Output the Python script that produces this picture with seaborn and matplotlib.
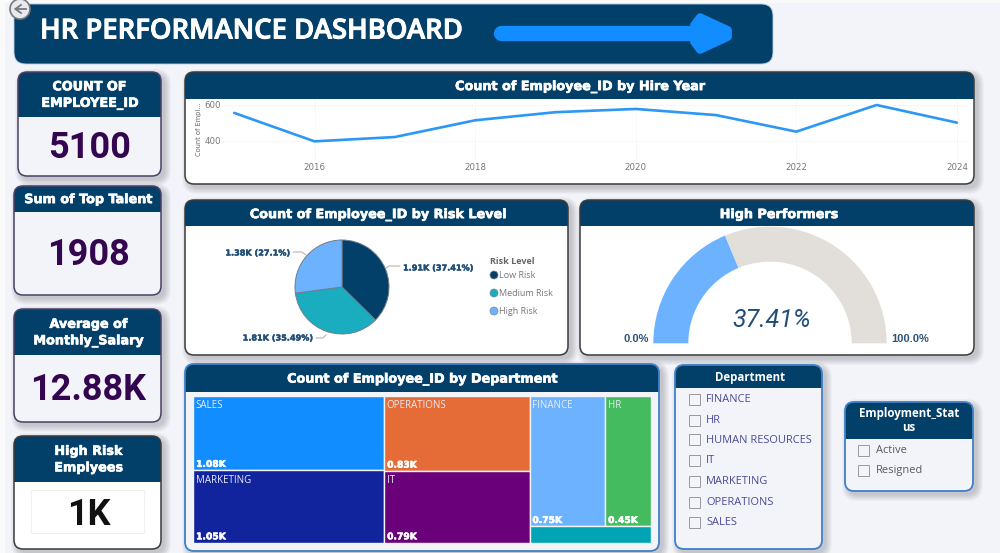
import matplotlib
matplotlib.use("Agg")
import matplotlib.pyplot as plt
import matplotlib.patheffects as pe
from matplotlib.patches import Circle, FancyBboxPatch, Polygon, Rectangle
import pandas as pd
import seaborn as sns

# ---- dashboard data ----
hire_years = [2015, 2016, 2017, 2018, 2019, 2020, 2021, 2022, 2023, 2024]
hire_counts = [556, 398, 422, 515, 560, 578, 544, 452, 600, 502]
year_ticks = [2016, 2018, 2020, 2022, 2024]
count_ticks = [400, 600]

risk_levels = ["Low Risk", "Medium Risk", "High Risk"]
risk_counts = [1908, 1810, 1382]

high_performer_pct = 37.41

dept_columns = [
    ["SALES", "MARKETING"],
    ["OPERATIONS", "IT"],
]
dept_counts = {
    "SALES": 1080, "MARKETING": 1050, "OPERATIONS": 830, "IT": 790,
    "FINANCE": 750, "HR": 450, "HUMAN RESOURCES": 150,
}
dept_slicer = ["FINANCE", "HR", "HUMAN RESOURCES", "IT", "MARKETING", "OPERATIONS", "SALES"]
status_slicer = ["Active", "Resigned"]

kpi_titles = ["COUNT OF\nEMPLOYEE_ID", "Sum of Top Talent", "Average of\nMonthly_Salary", "High Risk\nEmplyees"]
kpi_values = ["5100", "1908", "12.88K", "1K"]

# ---- palette ----
NAVY = "#023F69"
PAGE = "#F3F4F9"
PLUM = "#34064F"
BLUE = "#118DFF"
LIGHT_BLUE = "#6CB2FF"
TEAL = "#1AADBF"
dept_colors = {
    "SALES": BLUE, "MARKETING": "#12239E", "OPERATIONS": "#E66C37", "IT": "#6B007B",
    "FINANCE": LIGHT_BLUE, "HR": "#45BB60", "HUMAN RESOURCES": "#00A5B5",
}

sns.set_theme(style="white")
W, H = 1000, 553
fig = plt.figure(figsize=(W / 100, H / 100), dpi=100, facecolor=PAGE)

# Full-page layer in pixel units for cards and text.
canvas = fig.add_axes([0, 0, 1, 1], zorder=0)
canvas.set_xlim(0, W)
canvas.set_ylim(H, 0)
canvas.axis("off")
canvas.add_patch(Rectangle((0, 0), 5, H, fc="#FAFAFB", ec="none"))
canvas.add_patch(Rectangle((0, 0), W, 3, fc="#FAFAFB", ec="none"))


def px_axes(x0, y0, x1, y1, zorder=2):
    ax = fig.add_axes([x0 / W, 1 - y1 / H, (x1 - x0) / W, (y1 - y0) / H], zorder=zorder)
    ax.patch.set_alpha(0)
    return ax


def rounded(x0, y0, x1, y1, r, **kw):
    p = FancyBboxPatch((x0 + r, y0 + r), x1 - x0 - 2 * r, y1 - y0 - 2 * r,
                       boxstyle=f"round,pad={r},rounding_size={r}", **kw)
    canvas.add_patch(p)
    return p


def card(x0, y0, x1, y1, header_end, fill="white", edge="#3B3B3B", r=9, lw=1.1):
    for i in range(7, 0, -1):
        rounded(x0 + 4 - i, y0 + 4 - i, x1 + 3 + i, y1 + 3 + i, r + i,
                fc="#30343A", ec="none", alpha=0.035)
    body = rounded(x0, y0, x1, y1, r, fc=fill, ec="none")
    head = Rectangle((x0, y0), x1 - x0, header_end - y0, fc=NAVY, ec="none")
    canvas.add_patch(head)
    head.set_clip_path(body)
    rounded(x0, y0, x1, y1, r, fc="none", ec=edge, lw=lw)


def thicken(color, width=0.45):
    return [pe.withStroke(linewidth=width, foreground=color)]


def heading(x, y, s, size=9.2):
    canvas.text(x, y + 0.6, s, color="white", fontsize=size, fontweight="bold", family="DejaVu Sans",
                ha="center", va="center", linespacing=1.35, path_effects=thicken("white"))


# Page banner
rounded(14, 4, 773, 64, 12, fc=NAVY, ec="#B8CFE6", lw=0.6)
canvas.text(40, 31, "HR PERFORMANCE DASHBOARD", color="white", fontsize=19.8, fontweight="semibold",
            family="Open Sans", va="center", ha="left", path_effects=thicken("white", 0.7))
canvas.plot([501, 692], [33.3, 33.3], color=BLUE, lw=11, solid_capstyle="round")
canvas.add_patch(Polygon([(700, 17), (728, 30), (728, 37), (700, 50), (694, 42), (694, 25)],
                         closed=True, fc=BLUE, ec=BLUE, lw=5.5, joinstyle="round"))
canvas.add_patch(Circle((20, 9), 10, fc="#E9EAEE", ec="#77797D", lw=1.2, zorder=5))
canvas.annotate("", xy=(11, 9), xytext=(29, 9), zorder=6,
                arrowprops=dict(arrowstyle="->,head_width=0.25,head_length=0.35", color="#77797D", lw=1.3))

# KPI cards
kpi_boxes = [
    (18, 72, 161, 176, 117, 148),
    (14, 186, 161, 295, 212, 255),
    (14, 309, 161, 422, 355, 390),
    (14, 436, 161, 549, 482, 515),
]
for (x0, y0, x1, y1, hd, vy), title, value in zip(kpi_boxes, kpi_titles, kpi_values):
    is_last = value == kpi_values[-1]
    card(x0, y0, x1, y1, hd, fill="white" if is_last else PAGE,
         edge="#3A3A3A" if is_last else "#4B3F66")
    heading((x0 + x1) / 2 + (1 if x0 == 14 else 0), (y0 + hd) / 2, title, size=9.2)
    if is_last:
        canvas.add_patch(Rectangle((31, 490), 113, 43, fc="white", ec="#F0F0F0", lw=0.7))
    canvas.text((x0 + x1) / 2 + (1 if x0 == 14 else 0), vy, value, color="#111111" if is_last else PLUM,
                fontsize=26, fontweight="bold", family="Roboto", ha="center", va="center")

# Hire-year trend
card(185, 72, 974, 184, 98.5)
heading(580, 86, "Count of Employee_ID by Hire Year")
ax_line = px_axes(222, 99, 968, 160)
year_px = 80.3
ax_line.set_xlim(2016 - (314.5 - 222) / year_px, 2016 + (968 - 314.5) / year_px)
ax_line.set_ylim(400 - 19 * 200 / 36, 600 + 6 * 200 / 36)
trend = pd.DataFrame({"year": hire_years, "count": hire_counts})
sns.lineplot(data=trend, x="year", y="count", ax=ax_line, color="#2C97F5", lw=1.9, errorbar=None)
ax_line.set_xticks(year_ticks)
ax_line.set_yticks(count_ticks)
ax_line.tick_params(axis="y", length=0, labelsize=6.2, labelcolor="#777777", pad=1)
ax_line.tick_params(axis="x", length=0, labelsize=6.2, labelcolor="#777777", pad=2.5)
ax_line.set_xlabel("")
ax_line.set_ylabel("Count of Empl...", fontsize=4.8, color="#666666", labelpad=1.5)
ax_line.grid(True, color="#EBEBEB", ls=":", lw=0.7)
sns.despine(ax=ax_line, left=True, bottom=True, top=True, right=True)

# Risk-level pie
card(185, 200, 568, 355, 226)
heading(378, 214, "Count of Employee_ID by Risk Level")
pie_r = 47
ax_pie = px_axes(342 - pie_r, 287 - pie_r, 342 + pie_r, 287 + pie_r)
ax_pie.pie(risk_counts, colors=[NAVY, TEAL, LIGHT_BLUE], startangle=90, counterclock=False, radius=1,
           wedgeprops=dict(edgecolor="#6F7C8C", linewidth=0.7, clip_on=False))
ax_pie.set_xlim(-1, 1)
ax_pie.set_ylim(-1, 1)

risk_total = sum(risk_counts)
risk_label_spots = [(403, 268, "left"), (313, 338, "right"), (290, 253, "right")]
for v, (lx, ly, ha) in zip(risk_counts, risk_label_spots):
    canvas.text(lx, ly, f"{v / 1000:.2f}K ({round(v / risk_total * 100, 2):g}%)", color="#1F4E79",
                fontsize=5.85, fontweight="bold", family="DejaVu Sans", ha=ha, va="center",
                path_effects=thicken("#1F4E79", 0.3))
for xs, ys in [([385, 389, 400], [269, 266, 266]), ([293, 302, 306], [252, 252, 255]), ([316, 323, 326], [338, 338, 335])]:
    canvas.plot(xs, ys, color="#B5B5B5", lw=0.8, zorder=3)

canvas.text(490, 261, "Risk Level", color="#666666", fontsize=6.5, fontweight="bold",
            family="Open Sans", va="center")
for level, color, ly in zip(risk_levels, [NAVY, TEAL, LIGHT_BLUE], [275, 293, 311]):
    canvas.add_patch(Circle((494, ly), 4, fc=color, ec="#7A8794", lw=0.5))
    canvas.text(499, ly, level, color="#777777", fontsize=6.5, family="Open Sans", va="center")

# High-performer gauge
card(580, 200, 974, 355, 226)
heading(779, 214, "High Performers")
gauge_r = 116.7
ax_gauge = px_axes(770 - gauge_r, 343.3 - gauge_r, 770 + gauge_r, 343.3 + gauge_r)
wedges, _ = ax_gauge.pie([high_performer_pct, 100 - high_performer_pct, 100],
                         colors=[LIGHT_BLUE, "#E2DEDA", "none"], startangle=180, counterclock=False,
                         radius=1, wedgeprops=dict(width=0.3, edgecolor="none"))
wedges[2].set_visible(False)
ax_gauge.set_xlim(-1, 1)
ax_gauge.set_ylim(-1, 1)
canvas.text(772, 320, f"{high_performer_pct:.2f}%", color="#1F4E79", fontsize=18, style="italic",
            family=["Liberation Sans Narrow", "Roboto"], ha="center", va="center", zorder=4)
canvas.text(649, 339, "0.0%", color="#2F5578", fontsize=8, fontweight="bold",
            family="Liberation Sans", ha="right", va="center")
canvas.text(891, 339, "100.0%", color="#2F5578", fontsize=8, fontweight="bold",
            family="Liberation Sans", ha="left", va="center")

# Department treemap: column widths and row heights follow the headcounts
card(185, 364, 659, 551, 392, fill=PAGE, edge="#3F80C8", lw=1.3)
heading(422, 378.5, "Count of Employee_ID by Department")
ax_tree = px_axes(193.3, 395.7, 650.7, 542.7)
dept_total = sum(dept_counts.values())
ax_tree.set_xlim(0, dept_total)
ax_tree.set_ylim(1, 0)
ax_tree.axis("off")


def tile(name, left, width, top, height, show_text=True):
    ax_tree.bar(left, height, width=width, bottom=top, align="edge",
                color=dept_colors[name], edgecolor=PAGE, linewidth=1.0)
    if show_text:
        ax_tree.annotate(name, (left, top), xytext=(1.8, -3.2), textcoords="offset points",
                         color="#E9ECF7", fontsize=7, family="Open Sans", va="top")
        ax_tree.annotate(f"{dept_counts[name] / 1000:.2f}K", (left, top + height), xytext=(2, 1),
                         textcoords="offset points", color="white", fontsize=6.6, fontweight="bold",
                         family="DejaVu Sans", va="bottom", path_effects=thicken("white", 0.4))


left = 0
for names in dept_columns:
    col_total = sum(dept_counts[n] for n in names)
    top = 0
    for n in names:
        share = dept_counts[n] / col_total
        tile(n, left, col_total, top, share)
        top += share
    left += col_total

col_total = dept_counts["FINANCE"] + dept_counts["HR"] + dept_counts["HUMAN RESOURCES"]
row_total = dept_counts["FINANCE"] + dept_counts["HR"]
row_share = row_total / col_total
tile("FINANCE", left, col_total * dept_counts["FINANCE"] / row_total, 0, row_share)
tile("HR", left + col_total * dept_counts["FINANCE"] / row_total,
     col_total * dept_counts["HR"] / row_total, 0, row_share)
tile("HUMAN RESOURCES", left, col_total, row_share, 1 - row_share, show_text=False)


# Slicers
def slicer(items, box_x, text_x, ys, color):
    for item, y in zip(items, ys):
        canvas.add_patch(Rectangle((box_x, y - 5.5), 11, 11, fc=PAGE, ec="#9A9A9A", lw=0.7))
        canvas.text(text_x, y + 0.8, item, color=color, fontsize=7.9, family="Open Sans", va="center")


card(675, 365, 822, 549, 388, fill=PAGE, edge="#3F80C8", lw=1.3)
canvas.text(750, 377.5, "Department", color="white", fontsize=8.3, fontweight="bold",
            family="Open Sans", ha="center", va="center")
slicer(dept_slicer, 689, 706, [399, 420, 439.5, 460, 481, 502, 522], "#4A4A96")

card(845, 402, 973, 491, 439, fill=PAGE, edge="#3F80C8", lw=1.3)
canvas.text(909, 420.5, "Employment_Stat\nus", color="white", fontsize=8.3, fontweight="bold",
            family="Open Sans", ha="center", va="center", linespacing=1.05)
slicer(status_slicer, 858, 876, [450, 470], "#5A5A5A")

fig.savefig("out.png", dpi=100, facecolor=PAGE)
